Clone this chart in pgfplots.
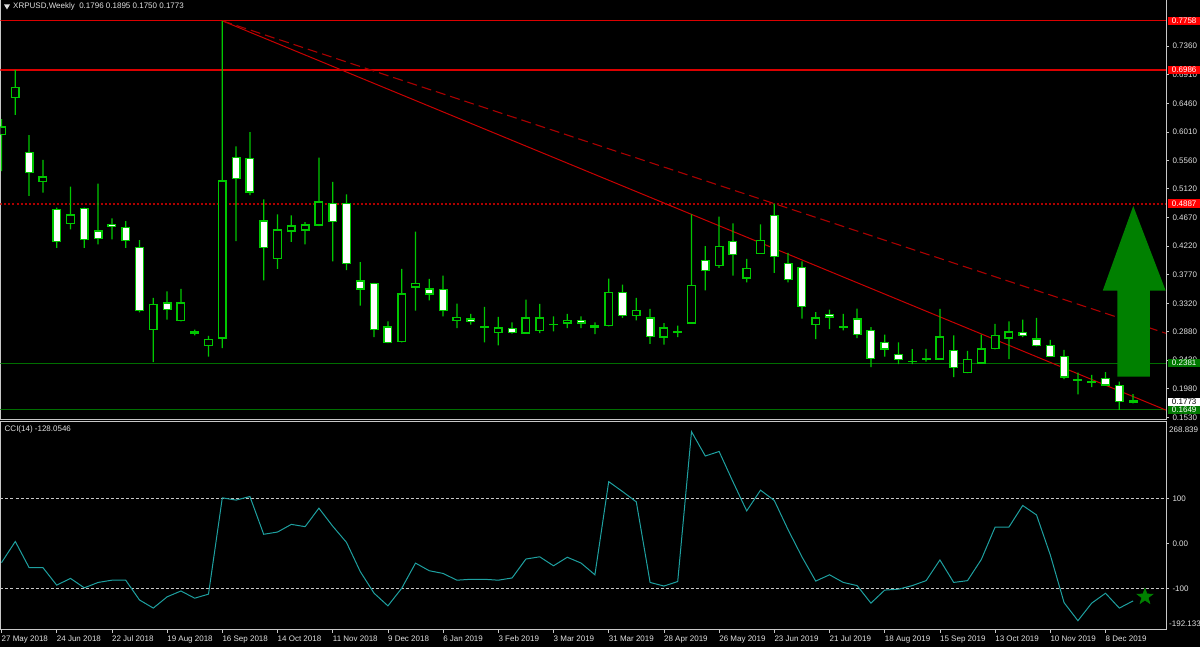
\documentclass[border=0pt]{standalone}
\usepackage{pgfplots}
\pgfplotsset{compat=1.18}
\usepackage{pgfplotstable}
\usepackage{fontspec}
\setmainfont{Liberation Sans}

\definecolor{candle}{RGB}{0,200,0}
\definecolor{lvlred}{RGB}{220,0,0}
\definecolor{trendred}{RGB}{200,0,0}
\definecolor{dashred}{RGB}{170,0,0}
\definecolor{dotred}{RGB}{175,0,0}
\definecolor{supgreen}{RGB}{0,110,0}
\definecolor{boxgreen}{RGB}{0,120,0}
\definecolor{arrowgreen}{RGB}{0,128,0}
\definecolor{ccicol}{RGB}{30,160,160}
\definecolor{framecol}{RGB}{200,200,200}
\definecolor{txt}{RGB}{225,225,225}

\newcommand\lbl{\fontsize{8}{9.6}\selectfont}

\pgfdeclareplotmark{bigstar}{%
  \pgfpathmoveto{\pgfpointpolar{90}{\pgfplotmarksize}}%
  \pgfpathlineto{\pgfpointpolar{126}{0.4\pgfplotmarksize}}%
  \pgfpathlineto{\pgfpointpolar{162}{\pgfplotmarksize}}%
  \pgfpathlineto{\pgfpointpolar{198}{0.4\pgfplotmarksize}}%
  \pgfpathlineto{\pgfpointpolar{234}{\pgfplotmarksize}}%
  \pgfpathlineto{\pgfpointpolar{270}{0.4\pgfplotmarksize}}%
  \pgfpathlineto{\pgfpointpolar{306}{\pgfplotmarksize}}%
  \pgfpathlineto{\pgfpointpolar{342}{0.4\pgfplotmarksize}}%
  \pgfpathlineto{\pgfpointpolar{18}{\pgfplotmarksize}}%
  \pgfpathlineto{\pgfpointpolar{54}{0.4\pgfplotmarksize}}%
  \pgfpathclose
  \pgfusepathqfillstroke}

\pgfplotstableread{
i o h l c
0 0.5978 0.6214 0.5396 0.6089
1 0.6557 0.6986 0.6282 0.6714
2 0.5690 0.5963 0.5007 0.5375
3 0.5233 0.5574 0.5060 0.5306
4 0.4797 0.4824 0.4194 0.4297
5 0.4576 0.5155 0.4482 0.4707
6 0.4813 0.4824 0.4194 0.4325
7 0.4455 0.5202 0.4246 0.4340
8 0.4560 0.4655 0.4325 0.4524
9 0.4513 0.4613 0.4194 0.4313
10 0.4194 0.4313 0.3180 0.3211
11 0.2907 0.3406 0.2398 0.3300
12 0.3327 0.3510 0.3064 0.3222
13 0.3053 0.3548 0.3037 0.3327
14 0.2855 0.2907 0.2817 0.2880
15 0.2659 0.2812 0.2486 0.2749
16 0.2776 0.7758 0.2618 0.5243
17 0.5611 0.5785 0.4297 0.5285
18 0.5600 0.6008 0.5022 0.5070
19 0.4613 0.4955 0.3683 0.4194
20 0.4020 0.4718 0.3863 0.4471
21 0.4455 0.4703 0.4288 0.4534
22 0.4471 0.4597 0.4246 0.4550
23 0.4550 0.5611 0.4534 0.4912
24 0.4887 0.5227 0.3982 0.4603
25 0.4887 0.5033 0.3841 0.3942
26 0.3674 0.3967 0.3285 0.3548
27 0.3631 0.3642 0.2792 0.2907
28 0.2949 0.3037 0.2697 0.2707
29 0.2723 0.3863 0.2707 0.3469
30 0.3579 0.4446 0.3206 0.3631
31 0.3548 0.3705 0.3368 0.3469
32 0.3537 0.3757 0.3116 0.3211
33 0.3049 0.3316 0.2933 0.3100
34 0.3075 0.3154 0.2985 0.3033
35 0.2951 0.3264 0.2707 0.2949
36 0.2864 0.3107 0.2659 0.2933
37 0.2922 0.3022 0.2844 0.2864
38 0.2855 0.3379 0.2849 0.3091
39 0.2895 0.3312 0.2855 0.3091
40 0.2985 0.3116 0.2880 0.2987
41 0.3012 0.3154 0.2933 0.3053
42 0.3049 0.3116 0.2933 0.3012
43 0.2970 0.3022 0.2839 0.2949
44 0.2974 0.3710 0.2958 0.3494
45 0.3494 0.3616 0.3091 0.3127
46 0.3132 0.3406 0.3053 0.3211
47 0.3091 0.3233 0.2686 0.2801
48 0.2792 0.3012 0.2671 0.2933
49 0.2872 0.2970 0.2792 0.2878
50 0.3012 0.4718 0.3004 0.3600
51 0.3994 0.4219 0.3526 0.3836
52 0.3920 0.4682 0.3879 0.4219
53 0.4297 0.4577 0.3757 0.4088
54 0.3721 0.4020 0.3652 0.3863
55 0.4104 0.4560 0.4100 0.4309
56 0.4703 0.4887 0.3800 0.4061
57 0.3942 0.4115 0.3652 0.3694
58 0.3879 0.3982 0.3080 0.3274
59 0.2985 0.3185 0.2760 0.3091
60 0.3143 0.3222 0.2918 0.3107
61 0.2950 0.3154 0.2895 0.2948
62 0.3075 0.3238 0.2776 0.2828
63 0.2895 0.2949 0.2319 0.2451
64 0.2707 0.2828 0.2486 0.2602
65 0.2513 0.2707 0.2367 0.2434
66 0.2405 0.2602 0.2367 0.2409
67 0.2443 0.2607 0.2407 0.2447
68 0.2445 0.3233 0.2440 0.2792
69 0.2580 0.2817 0.2162 0.2313
70 0.2240 0.2576 0.2224 0.2434
71 0.2382 0.2828 0.2376 0.2602
72 0.2607 0.2999 0.2600 0.2817
73 0.2776 0.3037 0.2445 0.2871
74 0.2864 0.3064 0.2792 0.2812
75 0.2760 0.3091 0.2644 0.2659
76 0.2659 0.2749 0.2480 0.2486
77 0.2486 0.2592 0.2130 0.2162
78 0.2122 0.2234 0.1893 0.2116
79 0.2085 0.2198 0.2004 0.2081
80 0.2146 0.2240 0.2035 0.2040
81 0.2029 0.2092 0.1649 0.1777
82 0.1796 0.1895 0.1750 0.1773
}\candles

\pgfplotstableread{
i v
0 -43
1 4
2 -54
3 -54
4 -93
5 -78
6 -99
7 -87
8 -82
9 -82
10 -126
11 -144
12 -119
13 -106
14 -122
15 -113
16 101
17 96
18 104
19 20
20 25
21 42
22 37
23 78
24 38
25 2
26 -63
27 -111
28 -139
29 -100
30 -44
31 -61
32 -67
33 -82
34 -80
35 -80
36 -82
37 -77
38 -35
39 -30
40 -50
41 -31
42 -44
43 -70
44 137
45 115
46 92
47 -87
48 -95
49 -85
50 248
51 194
52 204
53 137
54 72
55 118
56 95
57 30
58 -30
59 -84
60 -70
61 -87
62 -94
63 -133
64 -104
65 -102
66 -94
67 -83
68 -37
69 -87
70 -83
71 -36
72 36
73 36
74 84
75 63
76 -26
77 -132
78 -172
79 -133
80 -111
81 -144
82 -128.05
}\cci

\pgfplotsset{
  mainpanel/.style={at={(0.5pt,227.7pt)}, anchor=south west, scale only axis,
    width=1165.5pt, height=419.3pt, xmin=-0.0725, xmax=84.384,
    ymin=0.15, ymax=0.8085, enlargelimits=false},
  ccipanel/.style={at={(0.5pt,17pt)}, anchor=south west, scale only axis,
    width=1165.5pt, height=208.7pt, xmin=-0.0725, xmax=84.384,
    ymin=-192.67, ymax=271.1, enlargelimits=false},
  hline/.style={line width=1.1pt, mark=none},
}

\begin{document}
\begin{tikzpicture}
\fill[black] (0,0) rectangle (1200pt,647pt);

% ---------- main panel: frame, levels, trendlines, arrow
\begin{axis}[mainpanel,
  axis line style={framecol, line width=1pt},
  xtick=\empty,
  ytick={0.1530,0.1980,0.2430,0.2880,0.3320,0.3770,0.4220,0.4670,0.5120,0.5560,0.6010,0.6460,0.6910,0.7360},
  yticklabels={0.1530,0.1980,0.2430,0.2880,0.3320,0.3770,0.4220,0.4670,0.5120,0.5560,0.6010,0.6460,0.6910,0.7360},
  ytick pos=right, yticklabel pos=right,
  tick align=outside, major tick length=3pt,
  tick style={framecol, line width=0.8pt},
  tick label style={font=\lbl, text=txt},
  clip mode=individual]
  \addplot[hline, lvlred] coordinates {(-0.0725,0.7758) (84.384,0.7758)};
  \addplot[hline, lvlred] coordinates {(-0.0725,0.6986) (84.384,0.6986)};
  \addplot[mark=none, dotred, line width=1.8pt, dash pattern=on 2pt off 2pt] coordinates {(-0.0725,0.4887) (84.384,0.4887)};
  \addplot[mark=none, supgreen, line width=1pt] coordinates {(-0.0725,0.2381) (84.384,0.2381)};
  \addplot[mark=none, supgreen, line width=1pt] coordinates {(-0.0725,0.1649) (84.384,0.1649)};
  \addplot[mark=none, trendred, line width=1pt] coordinates {(16,0.7758) (84.384,0.1644)};
  \addplot[mark=none, dashred, line width=1.1pt, dash pattern=on 10pt off 5pt] coordinates {(16,0.7758) (84.384,0.2850)};
  \addplot[draw=none, fill=arrowgreen] coordinates {(80.86,0.2171) (80.86,0.3521) (79.80,0.3521) (82.01,0.4849) (84.36,0.3521) (83.22,0.3521) (83.22,0.2171)} -- cycle;
  \coordinate (b1) at (axis cs:84.384,0.7758);
  \coordinate (b2) at (axis cs:84.384,0.6986);
  \coordinate (b3) at (axis cs:84.384,0.4887);
  \coordinate (b4) at (axis cs:84.384,0.2381);
  \coordinate (b5) at (axis cs:84.384,0.1773);
  \coordinate (b6) at (axis cs:84.384,0.1649);
\end{axis}

% ---------- wicks
\begin{axis}[mainpanel, hide axis, ybar stacked, bar width=0.09]
  \addplot[draw=none, fill=none] table[x=i, y=l] {\candles};
  \addplot[draw=none, fill=candle] table[x=i, y expr=\thisrow{h}-\thisrow{l}] {\candles};
\end{axis}

% ---------- bodies
\begin{axis}[mainpanel, hide axis, ybar stacked, bar width=0.55]
  \addplot[draw=none, fill=none] table[x=i, y expr={min(\thisrow{o},\thisrow{c})}] {\candles};
  \addplot[draw=candle, fill=white, line width=1.3pt] table[x=i, y expr={max(\thisrow{o}-\thisrow{c},0)}] {\candles};
  \addplot[draw=candle, fill=black, line width=1.3pt] table[x=i, y expr={max(\thisrow{c}-\thisrow{o},0)}] {\candles};
\end{axis}

% ---------- CCI panel
\begin{axis}[ccipanel,
  axis line style={framecol, line width=1pt},
  xtick={0,4,...,80},
  xticklabels={27 May 2018,24 Jun 2018,22 Jul 2018,19 Aug 2018,16 Sep 2018,14 Oct 2018,11 Nov 2018,9 Dec 2018,6 Jan 2019,3 Feb 2019,3 Mar 2019,31 Mar 2019,28 Apr 2019,26 May 2019,23 Jun 2019,21 Jul 2019,18 Aug 2019,15 Sep 2019,13 Oct 2019,10 Nov 2019,8 Dec 2019},
  xtick pos=left, xticklabel pos=left,
  ytick={-100,0,100}, yticklabels={-100,0.00,100},
  ytick pos=right, yticklabel pos=right,
  tick align=outside, major tick length=3pt,
  tick style={framecol, line width=0.8pt},
  tick label style={font=\lbl, text=txt},
  xticklabel style={anchor=north west, inner sep=0pt, xshift=0pt, yshift=-3pt},
  clip mode=individual]
  \addplot[mark=none, framecol, line width=0.8pt, dash pattern=on 3pt off 2pt] coordinates {(-0.0725,100) (84.384,100)};
  \addplot[mark=none, framecol, line width=0.8pt, dash pattern=on 3pt off 2pt] coordinates {(-0.0725,-100) (84.384,-100)};
  \addplot[mark=none, ccicol, line width=1pt] table[x=i, y=v] {\cci};
  \addplot[only marks, mark=bigstar, mark size=8.5pt, mark options={fill=arrowgreen, draw=arrowgreen, line width=0.5pt}] coordinates {(82.86,-118.7)};
  \coordinate (ctop) at (axis cs:84.384,271.1);
  \coordinate (cbot) at (axis cs:84.384,-192.67);
\end{axis}

% ---------- price boxes on the right scale
\tikzset{pbox/.style={anchor=west, xshift=1.5pt, inner xsep=1pt, inner ysep=0.8pt, minimum width=33pt, minimum height=8.5pt, font=\lbl}}
\node[pbox, fill=red, text=white] at (b1) {0.7758};
\node[pbox, fill=red, text=white] at (b2) {0.6986};
\node[pbox, fill=red, text=white] at (b3) {0.4887};
\node[pbox, fill=boxgreen, text=white] at (b4) {0.2381};
\node[pbox, fill=white, text=black] at (b5) {0.1773};
\node[pbox, fill=boxgreen, text=white] at (b6) {0.1649};
\node[anchor=north west, font=\lbl, text=txt, inner sep=0pt, xshift=3pt, yshift=-5pt] at (ctop) {268.839};
\node[anchor=south west, font=\lbl, text=txt, inner sep=0pt, xshift=3pt, yshift=3pt] at (cbot) {-192.133};

% ---------- titles
\fill[txt] (4pt,642.5pt) -- (10pt,642.5pt) -- (7pt,637.5pt) -- cycle;
\node[anchor=west, inner sep=0pt, font=\lbl, text=txt] at (13pt,640.3pt) {XRPUSD,Weekly\ \ 0.1796 0.1895 0.1750 0.1773};
\node[anchor=west, inner sep=0pt, font=\lbl, text=txt] at (4.5pt,217.7pt) {CCI(14) -128.0546};

\pgfresetboundingbox
\path[use as bounding box] (0,0) rectangle (1200pt,647pt);
\end{tikzpicture}
\end{document}
